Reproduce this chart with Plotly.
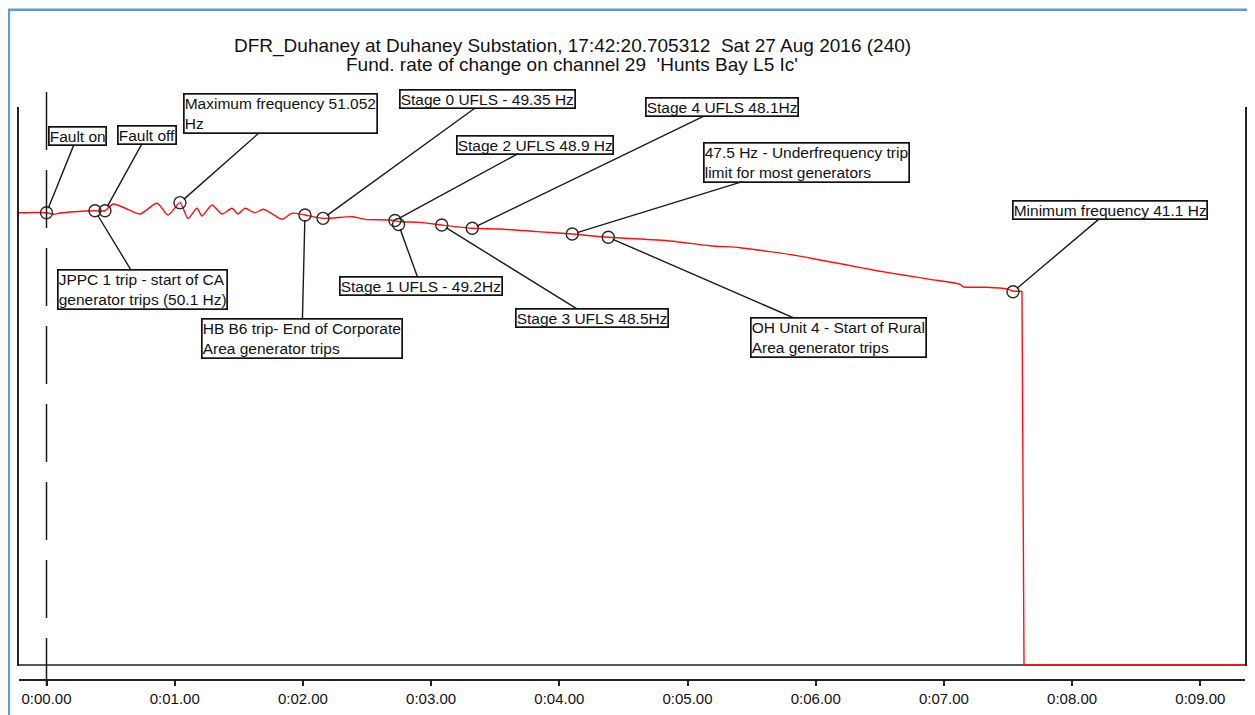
import plotly.graph_objects as go

# ---------------- data ----------------
time_s = [-0.215, 0.0, 0.05, 0.105, 0.22, 0.378, 0.456, 0.519, 0.61, 0.729, 0.862,
          0.948, 1.041, 1.104, 1.174, 1.213, 1.291, 1.369, 1.447, 1.494, 1.548,
          1.626, 1.689, 1.76, 1.837, 1.915, 2.016, 2.157, 2.391, 2.485, 2.679,
          2.757, 2.913, 3.083, 3.321, 3.537, 3.826, 4.101, 4.382, 4.864, 5.176,
          5.41, 5.644, 5.854, 6.034, 6.245, 6.479, 6.681, 6.892, 7.126, 7.15,
          7.336, 7.492, 7.539, 7.609, 7.625, 9.349]
freq_hz = [49.92, 49.92, 49.75, 49.89, 50.03, 50.14, 50.14, 50.88, 50.44, 49.78, 50.96,
           49.67, 51.03, 49.30, 50.41, 49.56, 50.77, 49.78, 50.41, 49.78, 50.41,
           49.92, 50.30, 49.80, 49.19, 49.86, 49.67, 49.30, 49.48, 49.19, 49.12,
           48.93, 48.86, 48.56, 48.20, 48.12, 47.83, 47.57, 47.21, 46.80, 46.28,
           46.06, 45.62, 45.18, 44.70, 44.15, 43.52, 43.05, 42.57, 42.02, 41.75,
           41.69, 41.50, 41.28, 41.25, 0.0, 0.0]

event_names = [
    "Fault on",
    "Fault off",
    "Maximum frequency 51.052<br>Hz",
    "Stage 0 UFLS - 49.35 Hz",
    "Stage 2 UFLS 48.9 Hz",
    "Stage 4 UFLS 48.1Hz",
    "47.5 Hz - Underfrequency trip<br>limit for most generators",
    "Minimum frequency 41.1 Hz",
    "JPPC 1 trip - start of CA<br>generator trips (50.1 Hz)",
    "HB B6 trip- End of Corporate<br>Area generator trips",
    "Stage 1 UFLS - 49.2Hz",
    "Stage 3 UFLS 48.5Hz",
    "OH Unit 4 - Start of Rural<br>Area generator trips",
]
event_time = [0.0, 0.456, 1.041, 2.157, 2.718, 3.321, 4.101, 7.539,
              0.378, 2.016, 2.746, 3.083, 4.382]
event_freq = [49.92, 50.14, 51.03, 49.30, 49.06, 48.20, 47.57, 41.20,
              50.14, 49.67, 48.62, 48.56, 47.21]

tick_vals = [0, 1, 2, 3, 4, 5, 6, 7, 8, 9]
tick_text = ["0:00.00", "0:01.00", "0:02.00", "0:03.00", "0:04.00",
             "0:05.00", "0:06.00", "0:07.00", "0:08.00", "0:09.00"]

title_lines = ["DFR_Duhaney at Duhaney Substation, 17:42:20.705312  Sat 27 Aug 2016 (240)",
               "Fund. rate of change on channel 29  'Hunts Bay L5 Ic'"]

# ---------------- geometry / styling ----------------
OFF = 8                      # page body margin of the browser
W, H = 1255 - OFF, 715 - OFF
L, R = 19 - OFF, W - (1245 - OFF)
T = 107 - OFF
B = H - (680 - OFF)
plot_w = W - L - R
plot_h = H - T - B
px_per_hz = 9.06
y_zero_s = 665               # screen row of 0 Hz
y_low = -0.15
y_top = (y_zero_s - 107) / px_per_hz
ydom0 = (680 - (y_zero_s + (-y_low) * px_per_hz)) / plot_h
x_range = [(19 - 46.5) / 128.2, (1245 - 46.5) / 128.2]


def px_x(sx):
    """screen x -> paper x"""
    return (sx - OFF - L) / plot_w


def px_y(sy):
    """screen y -> paper y"""
    return (H - B - (sy - OFF)) / plot_h


# label box offsets in pixels (box centre relative to the marked point)
label_offsets = [(31, -77), (42, -76), (101, -89), (164, -119), (140, -76),
                 (250, -121), (234, -72), (97, -82), (48, 79), (-3, 124),
                 (22, 61), (150, 93), (230, 100)]

FONT = "Liberation Sans, Arial, sans-serif"

split = time_s.index(7.609) + 1

fig = go.Figure()
fig.add_trace(go.Scatter(x=time_s[:split], y=freq_hz[:split], mode="lines",
                         line=dict(color="#ff1010", width=1.4, shape="spline",
                                   smoothing=0.7),
                         hoverinfo="skip", showlegend=False))
fig.add_trace(go.Scatter(x=time_s[split - 1:], y=freq_hz[split - 1:], mode="lines",
                         line=dict(color="#ff1010", width=1.4),
                         hoverinfo="skip", showlegend=False))
fig.add_trace(go.Scatter(x=event_time, y=event_freq, mode="markers",
                         marker=dict(symbol="circle-open", size=12, color="#2a2a2a",
                                     line=dict(width=1.4, color="#2a2a2a")),
                         hoverinfo="skip", showlegend=False))

annotations = []
for name, t, f, (ax, ay) in zip(event_names, event_time, event_freq, label_offsets):
    annotations.append(dict(
        x=t, y=f, xref="x", yref="y", text=name, showarrow=True,
        arrowhead=0, arrowwidth=1.4, arrowcolor="#1a1a1a", ax=ax, ay=ay,
        standoff=5, bordercolor="#111111", borderwidth=1.7, borderpad=0,
        bgcolor="white", align="left",
        font=dict(family=FONT, size=15.5, color="#111111")))

for line_text, cy in zip(title_lines, [46, 64]):
    annotations.append(dict(
        x=px_x(572), y=px_y(cy), xref="paper", yref="paper", text=line_text,
        showarrow=False, xanchor="center", yanchor="middle",
        font=dict(family=FONT, size=19, color="#111111")))

shapes = [
    # outer blue frame
    dict(type="rect", xref="paper", yref="paper",
         x0=px_x(8.8), x1=px_x(1280), y0=px_y(740), y1=px_y(9.8),
         line=dict(color="#5b9bd5", width=2.6), layer="below"),
    # bottom of plot box
    dict(type="line", xref="paper", yref="y", x0=0, x1=1, y0=0, y1=0,
         line=dict(color="#222222", width=1.5), layer="below"),
    # fault-on dashed marker line
    dict(type="line", xref="x", yref="paper", x0=0, x1=0,
         y0=px_y(92), y1=px_y(686),
         line=dict(color="#1a1a1a", width=1.5, dash="58px,20px"), layer="above"),
]

fig.update_layout(
    width=W, height=H,
    margin=dict(l=L, r=R, t=T, b=B, pad=0, autoexpand=False),
    paper_bgcolor="white", plot_bgcolor="white",
    showlegend=False,
    annotations=annotations,
    shapes=shapes,
    xaxis=dict(range=x_range, anchor="free", position=0,
               showline=True, linecolor="#222222", linewidth=1.5,
               ticks="outside", ticklen=5, tickwidth=1.5, tickcolor="#222222",
               tickvals=tick_vals, ticktext=tick_text,
               tickfont=dict(family=FONT, size=15, color="#111111"),
               showgrid=False, zeroline=False, fixedrange=True),
    yaxis=dict(domain=[ydom0, 1], range=[y_low, y_top],
               showline=True, mirror=True, linecolor="#222222", linewidth=1.5,
               ticks="", showticklabels=False,
               showgrid=False, zeroline=False, fixedrange=True),
)

fig.write_html("out.html")
